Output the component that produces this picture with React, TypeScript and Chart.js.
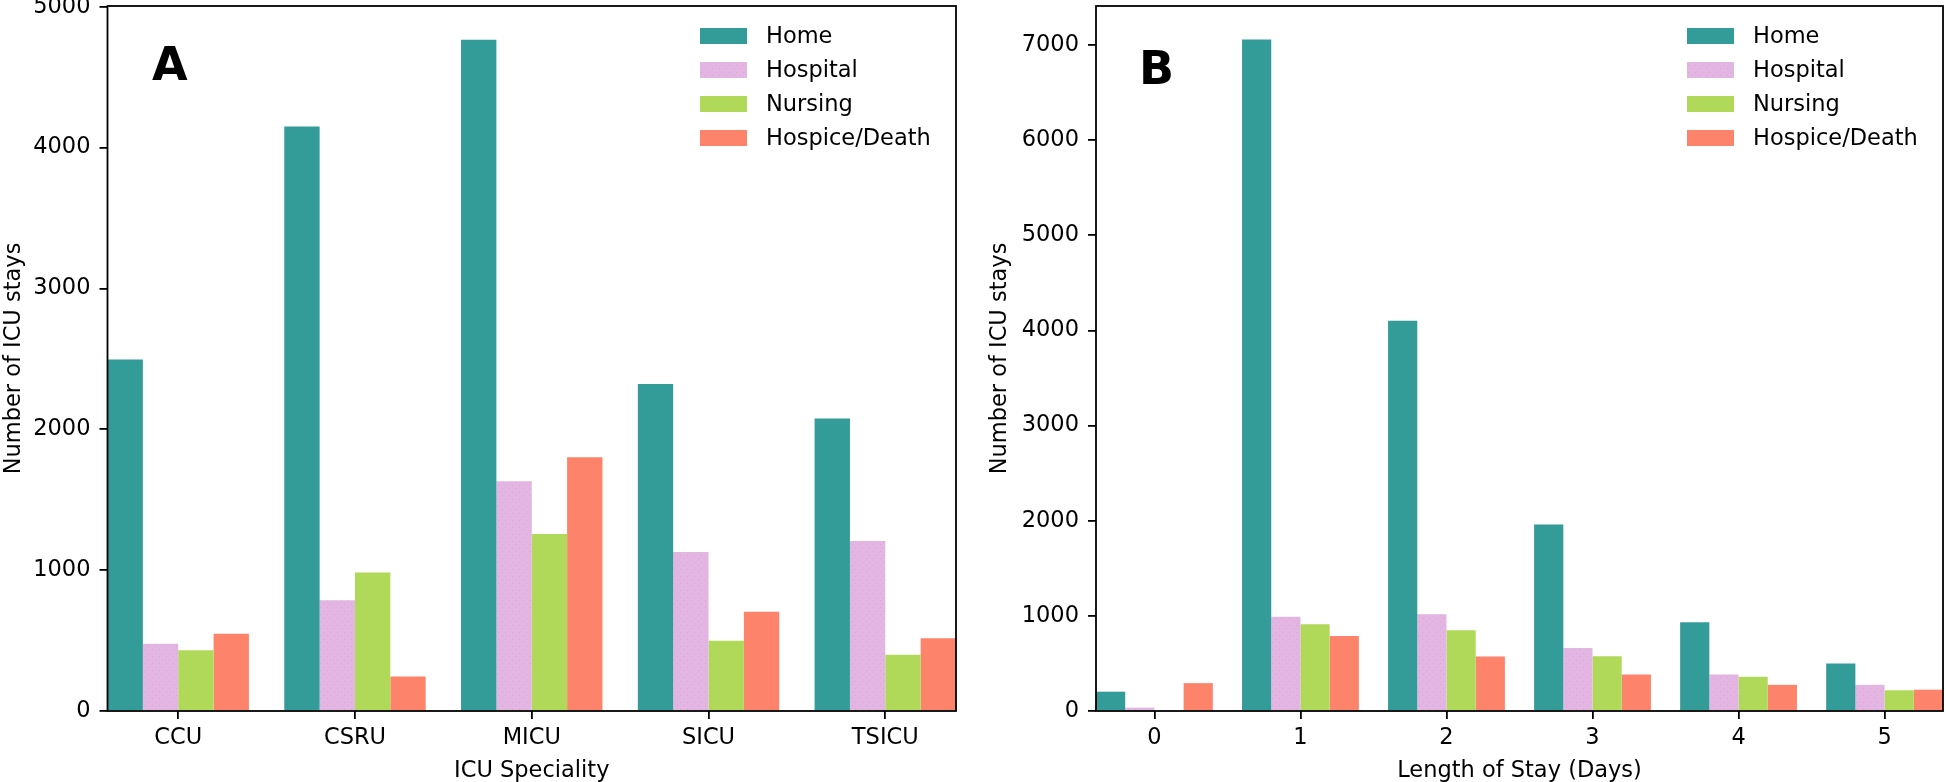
import React, { useEffect, useRef } from 'react';
import { Chart, registerables } from 'chart.js';

Chart.register(...registerables);

const seriesNames = ['Home', 'Hospital', 'Nursing', 'Hospice/Death'];
const seriesColors = ['#339c98', '#e2b5e2', '#b0d95a', '#fe836b'];

const icuCategories = ['CCU', 'CSRU', 'MICU', 'SICU', 'TSICU'];
const icuHome = [2495, 4150, 4765, 2322, 2077];
const icuHospital = [478, 786, 1631, 1129, 1207];
const icuNursing = [432, 984, 1256, 499, 400];
const icuHospice = [548, 245, 1801, 704, 517];
const icuYTicks = [0, 1000, 2000, 3000, 4000, 5000];

const losCategories = ['0', '1', '2', '3', '4', '5'];
const losHome = [203, 7058, 4101, 1961, 933, 498];
const losHospital = [35, 991, 1017, 661, 384, 275];
const losNursing = [10, 912, 850, 575, 360, 218];
const losHospice = [293, 787, 572, 383, 275, 224];
const losYTicks = [0, 1000, 2000, 3000, 4000, 5000, 6000, 7000];

const FAMILY = '"DejaVu Sans", sans-serif';
const FS = 22.5;

type PanelCfg = {
  categories: string[];
  series: number[][];
  yMax: number;
  yTicks: number[];
  xTitle: string;
  yTitle: string;
  letter: string;
  letterDx: number;
  letterBaseline: number;
  yAxisWidth: number;
  padRight: number;
  yTitlePad: number;
};

function dottedFill(base: string, dot: string): CanvasPattern | string {
  const tile = document.createElement('canvas');
  tile.width = 7;
  tile.height = 7;
  const t = tile.getContext('2d');
  if (!t) return base;
  t.fillStyle = base;
  t.fillRect(0, 0, 7, 7);
  t.fillStyle = dot;
  t.fillRect(1, 2, 1, 1);
  t.fillRect(5, 5, 1, 1);
  const p = t.createPattern(tile, 'repeat');
  return p || base;
}

function buildChart(canvas: HTMLCanvasElement, cfg: PanelCfg) {
  const n = cfg.categories.length;
  const fills = seriesColors.map((c, k) => (k === 1 ? dottedFill(c, '#dca6c4') : c));
  const datasets = seriesNames.map((name, k) => ({
    label: name,
    data: cfg.series[k].map((v, i) => ({ x: i, y: v })),
    backgroundColor: fills[k],
    borderWidth: 0,
    categoryPercentage: 0.8,
    barPercentage: 1.0,
  }));

  const decor = {
    id: 'decor',
    afterDatasetsDraw(chart: any) {
      const { ctx, chartArea } = chart;
      const { left, right, top, bottom } = chartArea;
      ctx.save();
      ctx.strokeStyle = '#000';
      ctx.lineWidth = 1.8;
      ctx.strokeRect(left, top, right - left, bottom - top);
      const boxX = right - 256;
      ctx.font = `${FS}px ${FAMILY}`;
      ctx.textBaseline = 'middle';
      ctx.textAlign = 'left';
      seriesNames.forEach((name, k) => {
        const y = 28 + k * 34;
        ctx.fillStyle = fills[k];
        ctx.fillRect(boxX, y, 47, 16);
        ctx.fillStyle = '#000';
        ctx.fillText(name, boxX + 66, y + 9);
      });
      ctx.font = `bold 46px ${FAMILY}`;
      ctx.textBaseline = 'alphabetic';
      ctx.fillText(cfg.letter, left + cfg.letterDx, cfg.letterBaseline);
      ctx.restore();
    },
  };

  const tickFont = { family: FAMILY, size: FS };
  const titleFont = { family: FAMILY, size: FS, lineHeight: 1 };
  const gridOpts = {
    display: true,
    drawOnChartArea: false,
    drawTicks: true,
    tickLength: 8,
    color: '#000',
    lineWidth: 1.8,
    offset: false,
  };

  return new Chart(canvas, {
    type: 'bar',
    data: { datasets } as any,
    options: {
      responsive: false,
      animation: false,
      devicePixelRatio: 1,
      layout: { padding: { left: 0, right: cfg.padRight, top: 6, bottom: 0 } },
      plugins: { legend: { display: false }, tooltip: { enabled: false } },
      scales: {
        x: {
          type: 'linear',
          min: -0.4,
          max: n - 0.6,
          offset: false,
          afterBuildTicks: (s: any) => {
            s.ticks = cfg.categories.map((_, i) => ({ value: i }));
          },
          afterFit: (s: any) => {
            s.height = 71;
            s.paddingLeft = 0;
            s.paddingRight = 0;
          },
          ticks: {
            callback: (v: any) => cfg.categories[v] ?? '',
            color: '#000',
            font: tickFont,
            padding: 6,
            maxRotation: 0,
            autoSkip: false,
          },
          grid: gridOpts,
          border: { display: false },
          title: {
            display: true,
            text: cfg.xTitle,
            color: '#000',
            font: titleFont,
            padding: { top: 0, bottom: -0.5 },
          },
        },
        y: {
          type: 'linear',
          min: 0,
          max: cfg.yMax,
          afterBuildTicks: (s: any) => {
            s.ticks = cfg.yTicks.map((v) => ({ value: v }));
          },
          afterFit: (s: any) => {
            s.width = cfg.yAxisWidth;
            s.paddingTop = 0;
            s.paddingBottom = 0;
          },
          ticks: {
            color: '#000',
            font: tickFont,
            padding: 9,
            callback: (v: any) => String(v),
          },
          grid: gridOpts,
          border: { display: false },
          title: {
            display: true,
            text: cfg.yTitle,
            color: '#000',
            font: titleFont,
            padding: { top: cfg.yTitlePad, bottom: 0 },
          },
        },
      },
    } as any,
    plugins: [decor],
  });
}

function Panel({ cfg, x, width }: { cfg: PanelCfg; x: number; width: number }) {
  const ref = useRef<HTMLCanvasElement | null>(null);
  useEffect(() => {
    if (!ref.current) return;
    const chart = buildChart(ref.current, cfg);
    return () => chart.destroy();
  }, [cfg]);
  return (
    <canvas
      ref={ref}
      width={width}
      height={782}
      style={{ position: 'absolute', left: x, top: 0, width, height: 782 }}
    />
  );
}

const leftCfg: PanelCfg = {
  categories: icuCategories,
  series: [icuHome, icuHospital, icuNursing, icuHospice],
  yMax: 5005,
  yTicks: icuYTicks,
  xTitle: 'ICU Speciality',
  yTitle: 'Number of ICU stays',
  letter: 'A',
  letterDx: 44.5,
  letterBaseline: 80,
  yAxisWidth: 107.5,
  padRight: 14,
  yTitlePad: 2.5,
};

const rightCfg: PanelCfg = {
  categories: losCategories,
  series: [losHome, losHospital, losNursing, losHospice],
  yMax: 7410,
  yTicks: losYTicks,
  xTitle: 'Length of Stay (Days)',
  yTitle: 'Number of ICU stays',
  letter: 'B',
  letterDx: 43,
  letterBaseline: 84,
  yAxisWidth: 116,
  padRight: 3,
  yTitlePad: 9,
};

export default function App() {
  return (
    <div
      style={{
        position: 'fixed',
        left: 0,
        top: 0,
        width: 1946,
        height: 782,
        background: '#fff',
        overflow: 'hidden',
      }}
    >
      <Panel cfg={leftCfg} x={0} width={970} />
      <Panel cfg={rightCfg} x={980} width={966} />
    </div>
  );
}
